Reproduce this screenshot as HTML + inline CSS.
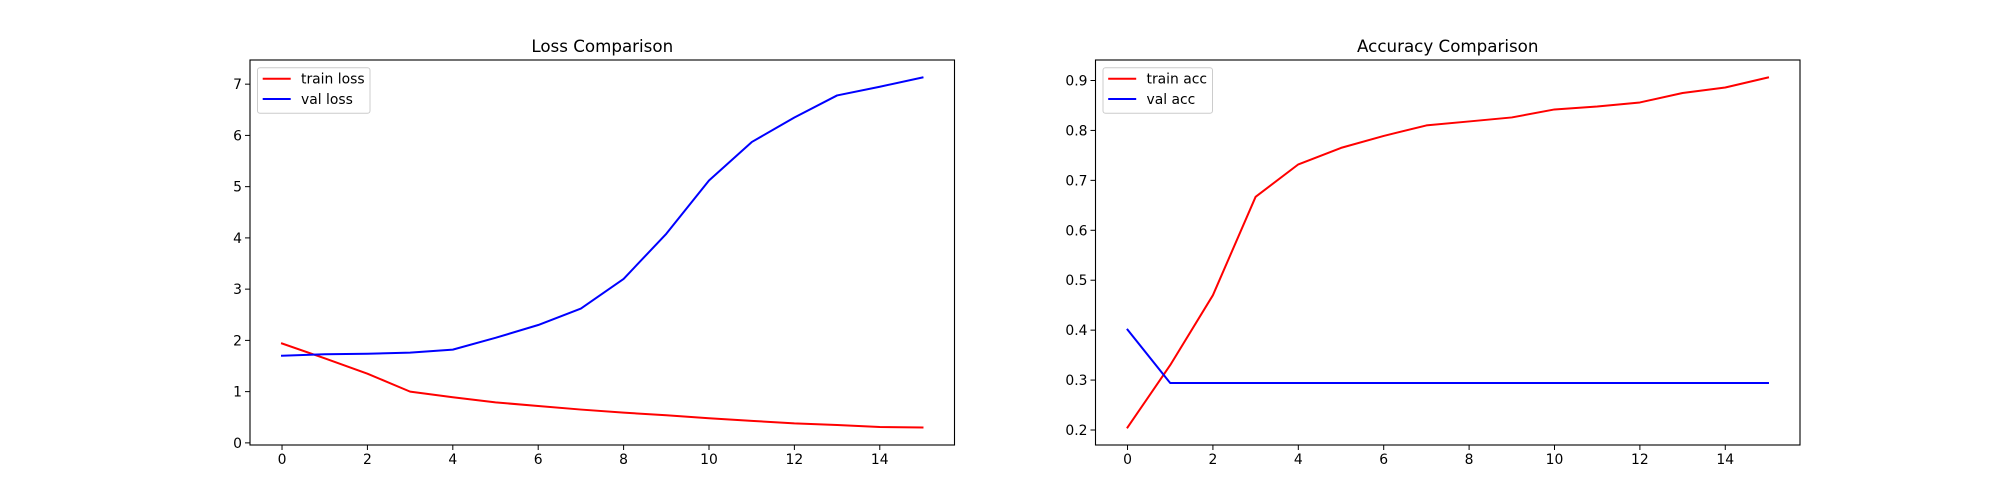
<!DOCTYPE html>
<html><head><meta charset="utf-8"><style>
html,body{margin:0;padding:0;background:#fff;}
svg{display:block;font-family:"DejaVu Sans","Liberation Sans",sans-serif;}
</style></head><body>
<svg id="fig" width="2000" height="500" viewBox="0 0 2000 500"></svg>
<script>
const epochs = [0,1,2,3,4,5,6,7,8,9,10,11,12,13,14,15];
const trainLoss = [1.94,1.65,1.35,1.00,0.89,0.79,0.72,0.65,0.59,0.54,0.48,0.43,0.38,0.35,0.31,0.30];
const valLoss = [1.70,1.73,1.74,1.76,1.82,2.05,2.30,2.62,3.20,4.08,5.12,5.87,6.35,6.78,6.95,7.13];
const trainAcc = [0.205,0.33,0.47,0.667,0.732,0.765,0.789,0.810,0.818,0.826,0.842,0.848,0.856,0.875,0.886,0.906];
const valAcc = [0.401,0.294,0.294,0.294,0.294,0.294,0.294,0.294,0.294,0.294,0.294,0.294,0.294,0.294,0.294,0.294];
const xTicks = [0,2,4,6,8,10,12,14];
const lossTicks = [0,1,2,3,4,5,6,7];
const accTicks = [0.2,0.3,0.4,0.5,0.6,0.7,0.8,0.9];

const NS = "http://www.w3.org/2000/svg";
const svg = document.getElementById('fig');
function mk(tag, attrs, parent){
  const e = document.createElementNS(NS, tag);
  for (const k in attrs) e.setAttribute(k, attrs[k]);
  (parent||svg).appendChild(e);
  return e;
}
function lim(arrs){
  let mn=Infinity,mx=-Infinity;
  arrs.forEach(a=>a.forEach(v=>{mn=Math.min(mn,v);mx=Math.max(mx,v);}));
  const m=(mx-mn)*0.05; return [mn-m,mx+m];
}
function panel(cfg){
  const L=cfg.left,R=cfg.left+704.5,T=60,B=445;
  const g = mk('g',{});
  
  
  const xl=lim([epochs]);
  const yl=lim(cfg.series.map(s=>s.data));
  const xs=v=>L+(v-xl[0])/(xl[1]-xl[0])*(R-L);
  const ys=v=>B-(v-yl[0])/(yl[1]-yl[0])*(B-T);
  cfg.series.forEach(s=>{
    const p = mk('polyline',{points:s.data.map((v,i)=>xs(epochs[i]).toFixed(2)+','+ys(v).toFixed(2)).join(' '),fill:'none',stroke:s.color,'stroke-width':2,'stroke-linejoin':'round','stroke-linecap':'square'},g);
    
    
  });
  const frame = mk('rect',{x:L,y:T,width:R-L,height:B-T,fill:'none',stroke:'#000','stroke-width':1.1},g);
  
  
  xTicks.forEach(t=>{
    const x=xs(t);
    mk('line',{x1:x,x2:x,y1:B,y2:B+5,stroke:'#000','stroke-width':1},g);
    const tx = mk('text',{x:x,y:B+19,'text-anchor':'middle','font-size':13.9,fill:'#000'},g);
    tx.textContent=t;
    
    
  });
  cfg.ticks.forEach(t=>{
    const y=ys(t);
    mk('line',{x1:L-5,x2:L,y1:y,y2:y,stroke:'#000','stroke-width':1},g);
    const tx = mk('text',{x:L-8,y:y+5,'text-anchor':'end','font-size':13.9,fill:'#000'},g);
    tx.textContent=cfg.fmt(t);
    
    
  });
  const title = mk('text',{x:(L+R)/2,y:52,'text-anchor':'middle','font-size':16.7,fill:'#000'},g);
  title.textContent=cfg.title;
  
  
  const lg = mk('g',{},g);
  
  
  mk('rect',{x:L+7.5,y:67.7,width:cfg.legW,height:45.6,rx:2.5,fill:'#fff','fill-opacity':0.8,stroke:'#ccc','stroke-width':1},lg);
  cfg.series.forEach((s,i)=>{
    const y=78.7+i*20.3;
    mk('line',{x1:L+12.7,x2:L+40.7,y1:y,y2:y,stroke:s.color,'stroke-width':2},lg);
    const t = mk('text',{x:L+51,y:y+5,'font-size':13.9,fill:'#000'},lg);
    t.textContent=s.label;
    
    
  });
}
panel({name:'loss-chart',left:250,title:'Loss Comparison',ticks:lossTicks,fmt:t=>String(t),legW:112.5,
  series:[{key:'train-loss',label:'train loss',data:trainLoss,color:'#ff0000'},{key:'val-loss',label:'val loss',data:valLoss,color:'#0000ff'}]});
panel({name:'accuracy-chart',left:1095.5,title:'Accuracy Comparison',ticks:accTicks,fmt:t=>t.toFixed(1),legW:109.5,
  series:[{key:'train-acc',label:'train acc',data:trainAcc,color:'#ff0000'},{key:'val-acc',label:'val acc',data:valAcc,color:'#0000ff'}]});
</script>
</body></html>
